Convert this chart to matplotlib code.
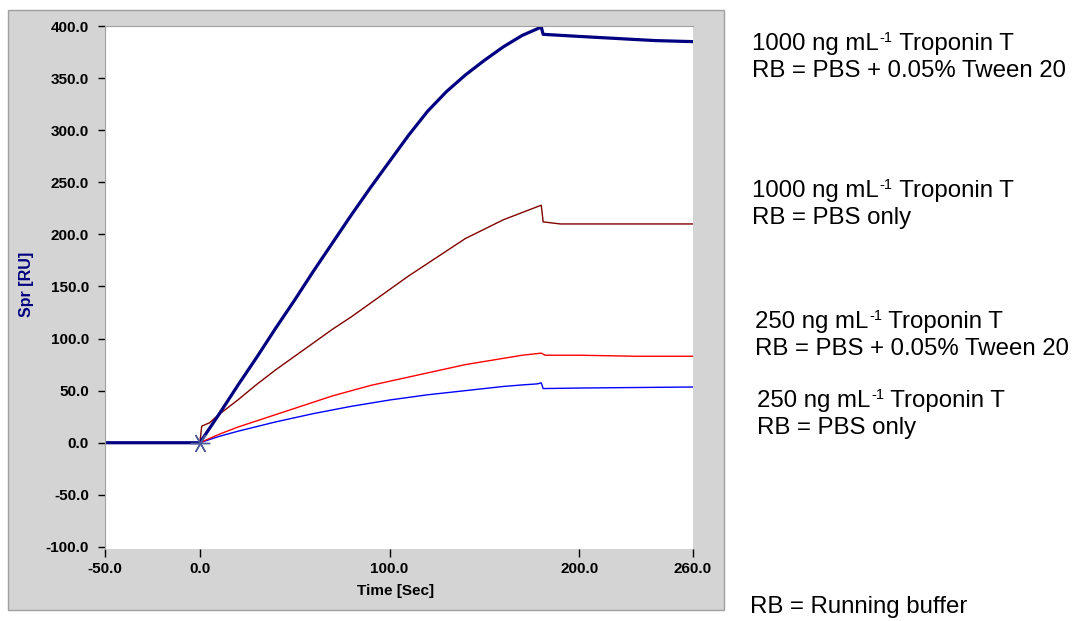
import matplotlib
matplotlib.use('Agg')
from matplotlib import pyplot as plt
from matplotlib.patches import Rectangle

plt.rcParams['font.family'] = ['Liberation Sans', 'DejaVu Sans']

# sensorgram readings, time in s, response in RU
time_1000_tween = [-50, 0, 10, 20, 30, 40, 50, 60, 70, 80, 90, 100, 110, 120, 130, 140,
                   150, 160, 170, 180, 181, 200, 220, 240, 260]
resp_1000_tween = [0, 0, 27, 55, 82, 110, 137, 165, 192, 219, 245, 270, 295, 318, 337, 353,
                   367, 380, 391, 399, 392, 390, 388, 386, 385]

time_1000_pbs = [-50, 0, 1, 5, 10, 20, 30, 40, 50, 60, 70, 80, 90, 100, 110, 120, 130, 140,
                 150, 160, 170, 180, 181, 190, 260]
resp_1000_pbs = [0, 0, 16, 19, 27, 41, 56, 70, 83, 96, 109, 121, 134, 147, 160, 172, 184, 196,
                 205, 214, 221, 228, 212, 210, 210]

time_250_tween = [-50, 0, 10, 20, 30, 40, 50, 60, 70, 80, 90, 100, 110, 120, 130, 140,
                  150, 160, 170, 180, 182, 200, 230, 260]
resp_250_tween = [0, 0, 8, 15, 21, 27, 33, 39, 45, 50, 55, 59, 63, 67, 71, 75,
                  78, 81, 84, 86, 84, 84, 83, 83]

time_250_pbs = [-50, 0, 10, 20, 30, 40, 50, 60, 70, 80, 90, 100, 110, 120, 130, 140,
                150, 160, 170, 178, 180, 181, 200, 230, 260]
resp_250_pbs = [0, 0, 6, 11, 15.5, 20, 24, 28, 31.5, 35, 38, 41, 43.5, 46, 48, 50,
                52, 54, 55.5, 56.5, 57.5, 52, 52.5, 53, 53.5]

x_ticks = [-50, 0, 100, 200, 260]
y_ticks = [-100, -50, 0, 50, 100, 150, 200, 250, 300, 350, 400]

concentrations = ["1000", "1000", "250", "250"]
buffers = ["RB = PBS + 0.05% Tween 20", "RB = PBS only",
           "RB = PBS + 0.05% Tween 20", "RB = PBS only"]
label_pos = [(752, 50), (752, 197), (755, 328), (757, 407)]
footnote = "RB = Running buffer"

W, H = 1073, 621
fig = plt.figure(figsize=(W / 100, H / 100), dpi=100)
fig.patch.set_facecolor('white')

# grey instrument panel behind the plot
fig.patches.append(Rectangle((8 / W, 1 - 610 / H), 716 / W, 600 / H, transform=fig.transFigure,
                             facecolor='#d4d4d4', edgecolor='#a0a0a0', lw=1, zorder=-5))

ax = fig.add_axes([105 / W, 1 - 549 / H, 588 / W, 523 / H])
ax.set_zorder(2)
ax.set_facecolor('white')
ax.plot(time_250_pbs, resp_250_pbs, color='#0000ff', lw=1.0)
ax.plot(time_250_tween, resp_250_tween, color='#ff0000', lw=1.0)
ax.plot(time_1000_pbs, resp_1000_pbs, color='#800000', lw=1.0)
ax.plot(time_1000_tween, resp_1000_tween, color='#000080', lw=2.3)
ax.plot([0], [0], marker=(6, 2, 90), color='#4a5a9a', markersize=14, mew=1, clip_on=False)

ax.set_xlim(-50, 260)
ax.set_ylim(-102, 400)
ax.set_xticks(x_ticks)
ax.set_xticklabels(['%.1f' % t for t in x_ticks])
ax.set_yticks(y_ticks)
ax.set_yticklabels(['%.1f' % t for t in y_ticks])
ax.tick_params(axis='y', direction='out', length=5, width=1, pad=6.5, labelsize=11)
ax.tick_params(axis='x', direction='out', length=6, width=1, pad=3.5, labelsize=11)
for lab in ax.get_xticklabels() + ax.get_yticklabels():
    lab.set_fontweight('bold')

for side in ['top', 'left']:
    ax.spines[side].set_color('#a0a0a0')
for side in ['bottom', 'right']:
    ax.spines[side].set_visible(False)

ax.set_xlabel('Time [Sec]', fontsize=11, fontweight='bold', va='center')
ax.xaxis.set_label_coords(0.494, -0.0803)
ax.set_ylabel('Spr [RU]', fontsize=11.5, fontweight='bold', color='#000080', va='center')
ax.yaxis.set_label_coords(-0.1327, 0.506)

renderer = fig.canvas.get_renderer()


def text_width(t):
    return t.get_window_extent(renderer=renderer).width


def put_label(px, py, conc):
    '''
    Write "<conc> ng mL-1 Troponin T" with a raised -1
    '''
    t1 = fig.text(px / W, 1 - py / H, conc + " ng mL", fontsize=17.3, va='baseline')
    x2 = px + text_width(t1) + 1
    t2 = fig.text(x2 / W, 1 - (py - 8) / H, "-1", fontsize=10.5, va='baseline')
    x3 = x2 + text_width(t2)
    fig.text(x3 / W, 1 - py / H, " Troponin T", fontsize=17.3, va='baseline')


for conc, buf, (px, py) in zip(concentrations, buffers, label_pos):
    put_label(px, py, conc)
    fig.text(px / W, 1 - (py + 27) / H, buf, fontsize=17.3, va='baseline')
fig.text(750 / W, 1 - 613 / H, footnote, fontsize=17.3, va='baseline')

fig.savefig('out.png', dpi=100)
